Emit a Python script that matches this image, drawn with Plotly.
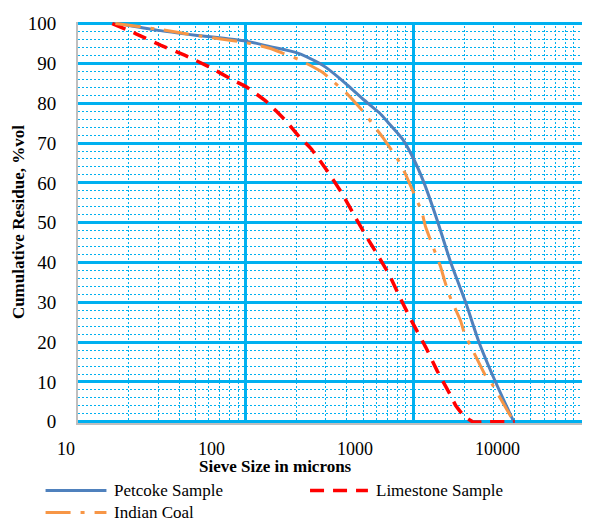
import plotly.graph_objects as go

# ---- data ----
petcoke_size = [17, 30, 50, 100, 140, 200, 275, 300, 400, 500, 624, 700, 859, 1000, 1153, 1384, 1663, 2040, 2450, 3076, 3950]
petcoke_res = [100, 98.3, 97.1, 95.6, 94.2, 92.7, 90, 89, 84.7, 81, 77.6, 75.3, 71, 66, 60, 50.5, 40, 30, 20, 10, 0]

limestone_size = [16, 22, 31, 43.5, 60, 83, 100, 132, 174, 209, 246, 308, 375, 454, 532, 602, 716, 840, 984, 1181, 1381, 1662, 1780, 2000, 2250, 2800, 4000]
limestone_res = [100, 97.5, 94.6, 92, 89.2, 85.9, 84.2, 80.5, 75.5, 71.5, 68.5, 62.8, 57.3, 51, 46, 42.3, 36.9, 30.7, 24.9, 18.7, 12.8, 6.6, 4.1, 1.4, 0, 0, 0]

coal_size = [16.7, 30, 53, 100, 139, 170, 209, 286, 337, 396, 508, 575, 653, 809, 887, 962, 1119, 1175, 1260, 1445, 1530, 1622, 1905, 2015, 2204, 2680, 2937, 3297, 3950]
coal_res = [100, 98.6, 96.9, 95.2, 93.8, 92.4, 90.9, 87.8, 85.2, 82.6, 77.6, 74.5, 71.5, 65.7, 62.5, 59.1, 52.7, 49.1, 45.6, 39, 35.4, 32, 25.3, 22, 18.7, 11.6, 9.4, 5.8, 0]

series_names = ["Petcoke Sample", "Limestone Sample", "Indian Coal"]
x_tick_text = ["10", "100", "1000", "10000"]
x_tick_vals = [10, 100, 1000, 10000]
x_minor_vals = [k * 10 ** d for d in (1, 2, 3) for k in range(2, 10)]
y_tick_vals = [0, 10, 20, 30, 40, 50, 60, 70, 80, 90, 100]

SERIF = "Liberation Serif"
GRID = "#00B0F0"
W, H = 609, 522
L, R, T, B = 77.5, 582.5, 21.7, 423.3
PW, PH = R - L, B - T


def px_x(px):
    return (px - L) / PW


def px_y(py):
    return (B - py) / PH


styles = [
    dict(color="#4F81BD", width=3, dash="solid"),
    dict(color="#FF0000", width=3.5, dash="14px,9px"),
    dict(color="#F79646", width=3, dash="25px,10px,4px,10px"),
]
smooth = [0.6, 0.3, 0.4]

fig = go.Figure()
for name, xs, ys, st, sm in zip(series_names, [petcoke_size, limestone_size, coal_size],
                                [petcoke_res, limestone_res, coal_res], styles, smooth):
    fig.add_trace(go.Scatter(x=xs, y=ys, name=name, mode="lines", showlegend=False,
                             line=dict(color=st["color"], width=st["width"], dash=st["dash"],
                                       shape="spline", smoothing=sm)))

annotations = []
shapes = []
# x tick labels (placed as in reference)
label_px = [65.5, 211, 355, 498]
for t, px in zip(x_tick_text, label_px):
    annotations.append(dict(text=t, xref="paper", yref="paper", x=px_x(px), y=px_y(449),
                            showarrow=False, xanchor="center", yanchor="middle",
                            font=dict(family=SERIF, size=18, color="#000")))
annotations.append(dict(text="<b>Sieve Size in microns</b>", xref="paper", yref="paper",
                        x=px_x(275), y=px_y(467), showarrow=False,
                        xanchor="center", yanchor="middle", font=dict(family=SERIF, size=17, color="#000")))
annotations.append(dict(text="<b>Cumulative Residue, %vol</b>", xref="paper", yref="paper",
                        x=px_x(18), y=0.5, showarrow=False, textangle=-90,
                        xanchor="center", yanchor="middle", font=dict(family=SERIF, size=17, color="#000")))

# legend (drawn in the reference's layout)
leg_pos = [(45, 106, 491), (310, 368, 491), (45, 106, 513)]
for name, st, (x0, x1, yy) in zip(series_names, styles, leg_pos):
    shapes.append(dict(type="line", xref="paper", yref="paper", x0=px_x(x0), x1=px_x(x1),
                       y0=px_y(yy), y1=px_y(yy), line=dict(color=st["color"], width=st["width"], dash=st["dash"])))
    annotations.append(dict(text=name, xref="paper", yref="paper", x=px_x(x1 + 6), y=px_y(yy),
                            showarrow=False, xanchor="left", yanchor="middle",
                            font=dict(family=SERIF, size=17, color="#000")))

fig.update_layout(
    width=W, height=H,
    margin=dict(l=L, r=W - R, t=T, b=H - B, autoexpand=False),
    paper_bgcolor="white", plot_bgcolor="white",
    font=dict(family=SERIF, color="#000"),
    annotations=annotations, shapes=shapes,
    showlegend=False,
)
fig.update_xaxes(type="log", range=[1, 4.003], tickvals=x_tick_vals, showticklabels=False,
                 showgrid=True, gridcolor=GRID, gridwidth=2.5, zeroline=False,
                 showline=True, linecolor="#BFBFBF", linewidth=2, ticks="",
                 minor=dict(tickvals=x_minor_vals, showgrid=True, gridcolor=GRID, gridwidth=1, griddash="2px,2px", ticks=""))
fig.update_yaxes(range=[-0.3, 100.4], tickvals=y_tick_vals, showgrid=True, gridcolor=GRID, gridwidth=2.5,
                 zeroline=False, showline=True, linecolor="#BFBFBF", linewidth=2, ticks="",
                 tickfont=dict(family=SERIF, size=19, color="#000"), ticklabelstandoff=16,
                 minor=dict(dtick=2, showgrid=True, gridcolor=GRID, gridwidth=1, griddash="2px,2px", ticks=""))

fig.write_html("out.html", config={"displayModeBar": False},
               post_script="document.body.style.margin='0';document.body.style.padding='0';")
